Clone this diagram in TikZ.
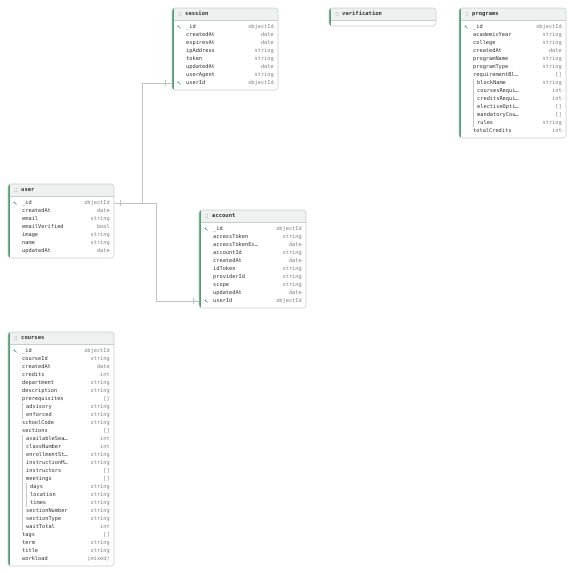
\documentclass[tikz,border=0pt]{standalone}
\usepackage{fontspec}
\setmonofont{DejaVu Sans Mono}
\definecolor{framec}{HTML}{C9CDCB}
\definecolor{headc}{HTML}{EEF1F0}
\definecolor{greenc}{HTML}{4E9E78}
\definecolor{namec}{HTML}{2F3432}
\definecolor{typec}{HTML}{7C817F}
\definecolor{connc}{HTML}{BFC3C1}
\definecolor{nestc}{HTML}{C5C9C7}
\definecolor{handlec}{HTML}{A8ADAB}
\tikzset{
  rowbox/.style={inner sep=0pt, minimum height=8pt, draw=none},
  namet/.style={anchor=base west, inner sep=0pt, text=namec, font=\ttfamily\fontsize{5.3}{6}\selectfont},
  typet/.style={anchor=base east, inner sep=0pt, text=typec, font=\ttfamily\fontsize{5.3}{6}\selectfont},
  titlet/.style={anchor=base west, inner sep=0pt, text=namec, font=\ttfamily\bfseries\fontsize{5.5}{6}\selectfont},
  conn/.style={draw=connc, line width=0.6pt},
  nest/.style={draw=nestc, line width=0.6pt},
}
\newcommand\keyicon[2]{%
  \begin{scope}[shift={({#1},{#2})}]
    \draw[greenc, line width=0.45pt] (-0.4,-0.4) -- (1.4,1.4);
    \draw[greenc, line width=0.45pt] (0.6,0.6) -- (1.2,0.2);
    \fill[greenc] (-0.8,-0.8) circle (0.85pt);
  \end{scope}}
\newcommand\handle[2]{%
  \foreach \dx in {0,1.6} {\foreach \dy in {-1.6,0,1.6} {\fill[handlec] ({#1+\dx},{#2+\dy}) circle (0.4pt);}}}
\newcommand\tframe[6]{%
  \begin{scope}
    \clip[rounded corners=3pt] (#2,#3) rectangle (#4,#5);
    \fill[white] (#2,#3) rectangle (#4,#5);
    \fill[headc] (#2,#3) rectangle (#4,{#3+12});
    \fill[greenc] (#2,#3) rectangle ({#2+1.5},#5);
  \end{scope}
  \draw[framec, line width=0.6pt, rounded corners=3pt] (#2,#3) rectangle (#4,#5);
  \draw[framec, line width=0.4pt] ({#2+1.5},{#3+12}) -- (#4,{#3+12});
  \handle{#2+7}{#3+6}
  \node[titlet] (#1) at ({#2+13},{#3+7.9}) {#6};}
\newcommand\trow[8]{%
  \pgfmathsetmacro\rw{#3-#2}%
  \pgfmathsetmacro\rc{(#2+#3)/2}%
  \pgfmathsetmacro\nx{#2+14+4*#5}%
  \node[rowbox, minimum width=\rw pt] (#1) at (\rc,#4) {};
  \node[namet] at (\nx,{#4+1.9}) {#6};
  \node[typet] at ({#3-4},{#4+1.9}) {#7};
  \ifnum#8=1 \keyicon{#2+7}{#4}\fi}
\begin{document}
\begin{tikzpicture}[x=1pt,y=-1pt]
\useasboundingbox (0,0) rectangle (573,573);
\fill[white] (0,0) rectangle (573,573);

% session
\tframe{session}{172}{8}{278}{90}{session}
\trow{s-id}{172}{278}{27}{0}{\_id}{objectId}{1}
\trow{s-createdAt}{172}{278}{35}{0}{createdAt}{date}{0}
\trow{s-expiresAt}{172}{278}{43}{0}{expiresAt}{date}{0}
\trow{s-ipAddress}{172}{278}{51}{0}{ipAddress}{string}{0}
\trow{s-token}{172}{278}{59}{0}{token}{string}{0}
\trow{s-updatedAt}{172}{278}{67}{0}{updatedAt}{date}{0}
\trow{s-userAgent}{172}{278}{75}{0}{userAgent}{string}{0}
\trow{s-userId}{172}{278}{83}{0}{userId}{objectId}{1}

% verification
\tframe{verification}{329}{8}{436}{26}{verification}

% programs
\tframe{programs}{459}{8}{566}{138}{programs}
\trow{p-id}{459}{566}{27}{0}{\_id}{objectId}{1}
\trow{p-academicYear}{459}{566}{35}{0}{academicYear}{string}{0}
\trow{p-college}{459}{566}{43}{0}{college}{string}{0}
\trow{p-createdAt}{459}{566}{51}{0}{createdAt}{date}{0}
\trow{p-programName}{459}{566}{59}{0}{programName}{string}{0}
\trow{p-programType}{459}{566}{67}{0}{programType}{string}{0}
\trow{p-requirementBl}{459}{566}{75}{0}{requirementBl…}{[]}{0}
\trow{p-blockName}{459}{566}{83}{1}{blockName}{string}{0}
\trow{p-coursesRequi}{459}{566}{91}{1}{coursesRequi…}{int}{0}
\trow{p-creditsRequi}{459}{566}{99}{1}{creditsRequi…}{int}{0}
\trow{p-electiveOpti}{459}{566}{107}{1}{electiveOpti…}{[]}{0}
\trow{p-mandatoryCou}{459}{566}{115}{1}{mandatoryCou…}{[]}{0}
\trow{p-rules}{459}{566}{123}{1}{rules}{string}{0}
\trow{p-totalCredits}{459}{566}{131}{0}{totalCredits}{int}{0}
\draw[nest] (473.5,79) -- (473.5,127);

% user
\tframe{user}{8}{184}{114}{258}{user}
\trow{u-id}{8}{114}{203}{0}{\_id}{objectId}{1}
\trow{u-createdAt}{8}{114}{211}{0}{createdAt}{date}{0}
\trow{u-email}{8}{114}{219}{0}{email}{string}{0}
\trow{u-emailVerified}{8}{114}{227}{0}{emailVerified}{bool}{0}
\trow{u-image}{8}{114}{235}{0}{image}{string}{0}
\trow{u-name}{8}{114}{243}{0}{name}{string}{0}
\trow{u-updatedAt}{8}{114}{251}{0}{updatedAt}{date}{0}

% account
\tframe{account}{199}{210}{306}{308}{account}
\trow{a-id}{199}{306}{229}{0}{\_id}{objectId}{1}
\trow{a-accessToken}{199}{306}{237}{0}{accessToken}{string}{0}
\trow{a-accessTokenEx}{199}{306}{245}{0}{accessTokenEx…}{date}{0}
\trow{a-accountId}{199}{306}{253}{0}{accountId}{string}{0}
\trow{a-createdAt}{199}{306}{261}{0}{createdAt}{date}{0}
\trow{a-idToken}{199}{306}{269}{0}{idToken}{string}{0}
\trow{a-providerId}{199}{306}{277}{0}{providerId}{string}{0}
\trow{a-scope}{199}{306}{285}{0}{scope}{string}{0}
\trow{a-updatedAt}{199}{306}{293}{0}{updatedAt}{date}{0}
\trow{a-userId}{199}{306}{301}{0}{userId}{objectId}{1}

% courses
\tframe{courses}{8}{332}{114}{566}{courses}
\trow{c-id}{8}{114}{351}{0}{\_id}{objectId}{1}
\trow{c-courseId}{8}{114}{359}{0}{courseId}{string}{0}
\trow{c-createdAt}{8}{114}{367}{0}{createdAt}{date}{0}
\trow{c-credits}{8}{114}{375}{0}{credits}{int}{0}
\trow{c-department}{8}{114}{383}{0}{department}{string}{0}
\trow{c-description}{8}{114}{391}{0}{description}{string}{0}
\trow{c-prerequisites}{8}{114}{399}{0}{prerequisites}{\{\}}{0}
\trow{c-advisory}{8}{114}{407}{1}{advisory}{string}{0}
\trow{c-enforced}{8}{114}{415}{1}{enforced}{string}{0}
\trow{c-schoolCode}{8}{114}{423}{0}{schoolCode}{string}{0}
\trow{c-sections}{8}{114}{431}{0}{sections}{[]}{0}
\trow{c-availableSea}{8}{114}{439}{1}{availableSea…}{int}{0}
\trow{c-classNumber}{8}{114}{447}{1}{classNumber}{int}{0}
\trow{c-enrollmentSt}{8}{114}{455}{1}{enrollmentSt…}{string}{0}
\trow{c-instructionM}{8}{114}{463}{1}{instructionM…}{string}{0}
\trow{c-instructors}{8}{114}{471}{1}{instructors}{[]}{0}
\trow{c-meetings}{8}{114}{479}{1}{meetings}{[]}{0}
\trow{c-days}{8}{114}{487}{2}{days}{string}{0}
\trow{c-location}{8}{114}{495}{2}{location}{string}{0}
\trow{c-times}{8}{114}{503}{2}{times}{string}{0}
\trow{c-sectionNumber}{8}{114}{511}{1}{sectionNumber}{string}{0}
\trow{c-sectionType}{8}{114}{519}{1}{sectionType}{string}{0}
\trow{c-waitTotal}{8}{114}{527}{1}{waitTotal}{int}{0}
\trow{c-tags}{8}{114}{535}{0}{tags}{[]}{0}
\trow{c-term}{8}{114}{543}{0}{term}{string}{0}
\trow{c-title}{8}{114}{551}{0}{title}{string}{0}
\trow{c-workload}{8}{114}{559}{0}{workload}{\textit{(mixed)}}{0}
\draw[nest] (22.5,403) -- (22.5,419);
\draw[nest] (22.5,435) -- (22.5,531);
\draw[nest] (26.5,483) -- (26.5,507);

% connectors
\draw[conn] (u-id.east) -- ++(28,0) |- (s-userId.west);
\draw[conn] (u-id.east) -- ++(42,0) |- (a-userId.west);
\draw[conn] ([xshift=6pt]u-id.east) ++(0,-3) -- ++(0,6);
\draw[conn] ([xshift=-7pt]s-userId.west) ++(0,-3) -- ++(0,6);
\draw[conn] ([xshift=-6pt]a-userId.west) ++(0,-3) -- ++(0,6);
\end{tikzpicture}
\end{document}
